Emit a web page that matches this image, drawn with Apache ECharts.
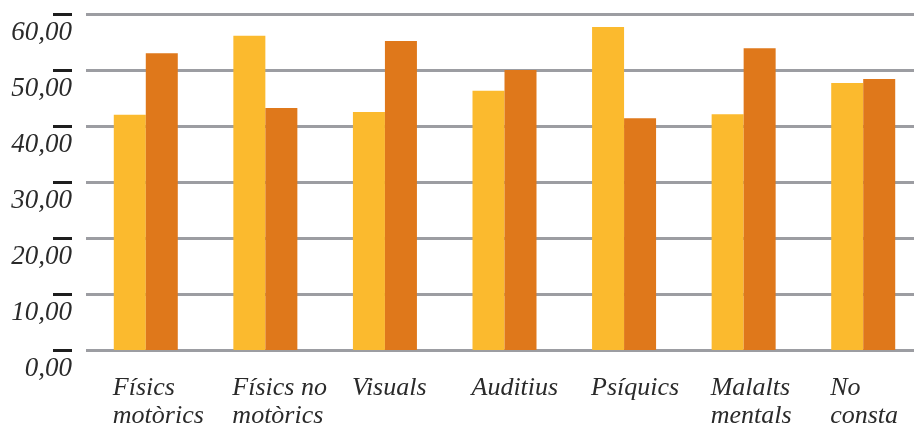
<!DOCTYPE html>
<html>
<head>
<meta charset="utf-8">
<script src="https://cdn.jsdelivr.net/npm/echarts@6/dist/echarts.min.js"></script>
<style>
  html, body { margin: 0; padding: 0; background: #fff; }
  #chart { width: 914px; height: 426px; }
</style>
</head>
<body>
<div id="chart"></div>
<script>
const categories = ['Físics\nmotòrics', 'Físics no\nmotòrics', 'Visuals', 'Auditius', 'Psíquics', 'Malalts\nmentals', 'No\nconsta'];
const seriesA = [42.0, 56.1, 42.5, 46.3, 57.7, 42.1, 47.7];
const seriesB = [53.0, 43.2, 55.2, 50.0, 41.4, 53.9, 48.4];
const yMin = 0, yMax = 60, yStep = 10;

const fontFamily = '"Liberation Serif", serif';
const chart = echarts.init(document.getElementById('chart'), null, { renderer: 'canvas' });
chart.setOption({
  animation: false,
  backgroundColor: '#ffffff',
  grid: { left: 86, right: -9, top: 14, bottom: 76, containLabel: false, outerBoundsMode: 'none' },
  xAxis: {
    type: 'category',
    data: categories,
    axisLine: { show: false },
    axisTick: { show: false },
    axisLabel: {
      interval: 0,
      margin: 24,
      align: 'left',
      padding: [0, 0, 0, -33],
      fontFamily: fontFamily,
      fontStyle: 'italic',
      fontSize: 26,
      lineHeight: 28,
      color: '#2a2a2a'
    }
  },
  yAxis: {
    type: 'value',
    min: yMin, max: yMax, interval: yStep,
    offset: 14,
    axisLine: { show: false },
    axisTick: { show: true, length: 19, lineStyle: { color: '#1e1e1e', width: 3 } },
    axisLabel: {
      margin: 0,
      align: 'right',
      verticalAlign: 'top',
      padding: [5, 0, 0, 0],
      fontFamily: fontFamily,
      fontStyle: 'italic',
      fontSize: 27,
      color: '#2a2a2a',
      formatter: v => v.toFixed(2).replace('.', ',')
    },
    splitLine: { show: true, lineStyle: { color: '#9c9da2', width: 3 } }
  },
  series: [
    { type: 'bar', data: seriesA, barWidth: 32, barGap: '0%', itemStyle: { color: '#FBBA2E' } },
    { type: 'bar', data: seriesB, barWidth: 32, barGap: '0%', itemStyle: { color: '#DF781B' } }
  ]
});
</script>
</body>
</html>
